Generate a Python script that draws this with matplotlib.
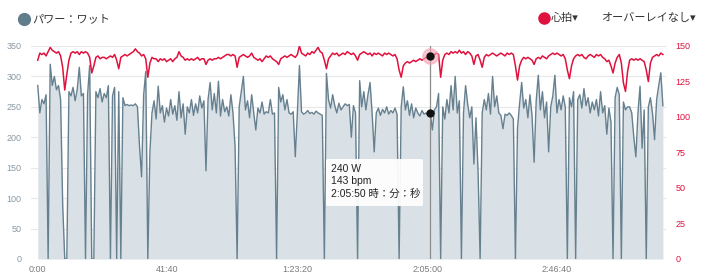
import matplotlib
matplotlib.use("Agg")
import matplotlib.pyplot as plt
import numpy as np
from matplotlib.lines import Line2D
from matplotlib.patches import FancyBboxPatch

plt.rcParams["font.family"] = ["Liberation Sans", "Noto Sans CJK JP", "DejaVu Sans"]

# one sample every 40 s
SAMPLE_SEC = 40

power_w = [
    285, 240, 262, 255, 270, 0, 320, 285, 300, 278, 285, 262, 90, 0, 0, 275, 268, 282, 260, 278, 315, 268, 272, 0, 270,
    318, 0, 0, 275, 265, 280, 258, 272, 265, 285, 0, 268, 282, 0, 275, 0, 265, 252, 254, 252, 253, 252, 255, 250, 185,
    135, 270, 308, 0, 175, 240, 260, 230, 284, 240, 252, 225, 248, 235, 262, 238, 252, 228, 275, 232, 255, 205, 250, 240, 262,
    236, 255, 240, 268, 248, 260, 145, 262, 290, 245, 272, 240, 292, 235, 262, 242, 250, 235, 270, 240, 185, 0, 250, 275, 300,
    245, 260, 232, 270, 240, 212, 248, 240, 258, 238, 242, 240, 262, 238, 240, 0, 282, 258, 270, 245, 262, 240, 238, 242, 168,
    240, 318, 242, 238, 240, 244, 239, 241, 238, 243, 240, 238, 236, 0, 305, 262, 248, 270, 252, 240, 256, 245, 250, 255, 252,
    254, 200, 252, 240, 0, 293, 250, 275, 245, 270, 290, 240, 176, 240, 248, 236, 246, 240, 250, 238, 244, 240, 248, 238, 0,
    250, 283, 245, 260, 236, 255, 232, 248, 240, 235, 244, 238, 240, 236, 240, 212, 245, 250, 272, 0, 250, 230, 262, 240, 285,
    245, 300, 240, 260, 0, 240, 285, 255, 232, 250, 156, 232, 145, 0, 240, 262, 245, 272, 238, 300, 250, 268, 240, 236, 214,
    238, 236, 240, 236, 230, 0, 215, 255, 290, 248, 262, 232, 270, 235, 159, 260, 302, 245, 275, 232, 258, 176, 250, 268, 302,
    240, 262, 245, 268, 250, 0, 265, 250, 275, 0, 262, 270, 248, 280, 252, 265, 240, 258, 245, 262, 235, 275, 240, 252, 205,
    248, 225, 0, 265, 282, 270, 0, 258, 245, 250, 250, 240, 200, 168, 240, 284, 182, 245, 0, 250, 265, 240, 196, 262, 285,
    306, 252,
]

heart_rate = [
    140, 145, 144, 145, 143, 146, 149, 147, 146, 145, 146, 143, 135, 119, 130, 140, 145, 146, 145, 146, 144, 146, 145, 146, 145,
    142, 131, 136, 142, 143, 141, 142, 142, 141, 142, 143, 142, 144, 140, 134, 142, 143, 144, 143, 144, 145, 146, 148, 146, 145,
    143, 144, 141, 128, 138, 142, 141, 141, 139, 141, 140, 141, 139, 140, 141, 139, 141, 142, 146, 143, 142, 140, 141, 140, 141,
    140, 141, 142, 140, 141, 141, 137, 140, 141, 140, 141, 141, 142, 141, 142, 143, 144, 144, 143, 144, 143, 135, 142, 143, 144,
    143, 142, 143, 145, 142, 141, 140, 141, 139, 141, 143, 142, 143, 141, 140, 139, 137, 141, 142, 143, 142, 143, 144, 143, 142,
    144, 150, 145, 144, 143, 145, 144, 146, 145, 147, 149, 146, 145, 140, 134, 141, 143, 145, 144, 145, 143, 144, 145, 144, 146,
    145, 144, 145, 143, 140, 144, 145, 146, 145, 144, 145, 143, 145, 144, 145, 144, 143, 145, 144, 145, 144, 143, 144, 141, 133,
    128, 136, 138, 139, 138, 139, 140, 139, 140, 141, 140, 141, 142, 141, 143, 143, 144, 145, 144, 128, 140, 144, 145, 144, 146,
    145, 146, 145, 147, 145, 146, 144, 146, 145, 143, 137, 143, 144, 140, 135, 142, 144, 143, 144, 145, 144, 143, 144, 145, 144,
    143, 145, 144, 145, 144, 136, 126, 136, 140, 142, 141, 142, 141, 140, 137, 141, 142, 141, 143, 142, 141, 143, 144, 145, 144,
    145, 144, 143, 144, 141, 133, 127, 136, 141, 143, 144, 143, 144, 142, 141, 143, 144, 143, 142, 144, 143, 144, 142, 141, 139,
    140, 136, 131, 138, 142, 144, 138, 124, 118, 132, 140, 141, 140, 141, 140, 141, 140, 139, 133, 125, 138, 142, 143, 144, 143,
    145, 144,
]

x_ticks = [0, 2500, 5000, 7500, 10000]
x_tick_labels = ["0:00", "41:40", "1:23:20", "2:05:00", "2:46:40"]
power_ticks = [0, 50, 100, 150, 200, 250, 300, 350]
hr_ticks = [0, 25, 50, 75, 100, 125, 150]

# hover cursor shown in the screenshot
cursor_sec = 7550
cursor_power = 240
cursor_hr = 143
tooltip_lines = ["240 W", "143 bpm", "2:05:50 時：分：秒"]

POWER_LINE = "#66808f"
POWER_FILL = "#d9e1e6"
HR_RED = "#e0113d"
AXIS_GREY = "#8a98a3"

t = np.arange(len(power_w)) * SAMPLE_SEC

fig = plt.figure(figsize=(7.10, 2.77), dpi=100)
ax = fig.add_axes([31 / 710, 18 / 277, 635 / 710, 213 / 277])
ax2 = ax.twinx()

ax.fill_between(t, power_w, 0, color=POWER_FILL, lw=0)
ax.plot(t, power_w, color=POWER_LINE, lw=1.0)
ax2.plot(t, heart_rate, color=HR_RED, lw=1.1)

ax.set_xlim(-130, 12100)
ax.set_ylim(0, 350)
ax2.set_ylim(0, 150)
ax.set_xticks(x_ticks)
ax.set_xticklabels(x_tick_labels)
ax.set_yticks(power_ticks)
ax2.set_yticks(hr_ticks)
ax.grid(axis="y", color="#e6e8ea", lw=0.8)
ax.set_axisbelow(True)
for a in (ax, ax2):
    for s in a.spines.values():
        s.set_visible(False)
ax.tick_params(axis="x", length=0, pad=4, labelsize=6.5, labelcolor="#7b7b7b")
ax.tick_params(axis="y", length=0, pad=7, labelsize=6.5, labelcolor=AXIS_GREY)
ax2.tick_params(axis="y", length=0, pad=7, labelsize=6.5, labelcolor=HR_RED)

# cursor line and markers
ax.axvline(cursor_sec, color="#8c8c8c", lw=0.9)
ax2.plot([cursor_sec], [cursor_hr], "o", ms=11, color="#f3a3b3", alpha=0.6)
ax2.plot([cursor_sec], [cursor_hr], "o", ms=5, color="#111111")
ax2.plot([cursor_sec], [cursor_power * 150 / 350], "o", ms=5, color="#111111")

# tooltip
box = FancyBboxPatch((326 / 710, (277 - 206) / 277), 97 / 710, 47 / 277,
                     boxstyle="round,pad=0,rounding_size=0.004",
                     transform=fig.transFigure, fc="white", ec="none",
                     alpha=0.93, zorder=10)
fig.add_artist(box)
for k, line in enumerate(tooltip_lines):
    fig.text(331 / 710, 1 - (169 + k * 12.3) / 277, line, fontsize=7.5,
             color="#222222", va="center", ha="left", zorder=11)

# header legend
fig.add_artist(Line2D([24 / 710], [1 - 19 / 277], marker="o", ms=8.5,
                      color="#607d8b", transform=fig.transFigure))
fig.text(32 / 710, 1 - 19 / 277, "パワー：ワット", fontsize=8, color="#333333", va="center")
fig.add_artist(Line2D([543.5 / 710], [1 - 18 / 277], marker="o", ms=8,
                      color=HR_RED, transform=fig.transFigure))
fig.text(551 / 710, 1 - 18 / 277, "心拍▾", fontsize=8, color="#333333", va="center")
fig.text(601 / 710, 1 - 18 / 277, "オーバーレイなし▾", fontsize=8, color="#333333", va="center")

fig.savefig("out.png", dpi=100)
